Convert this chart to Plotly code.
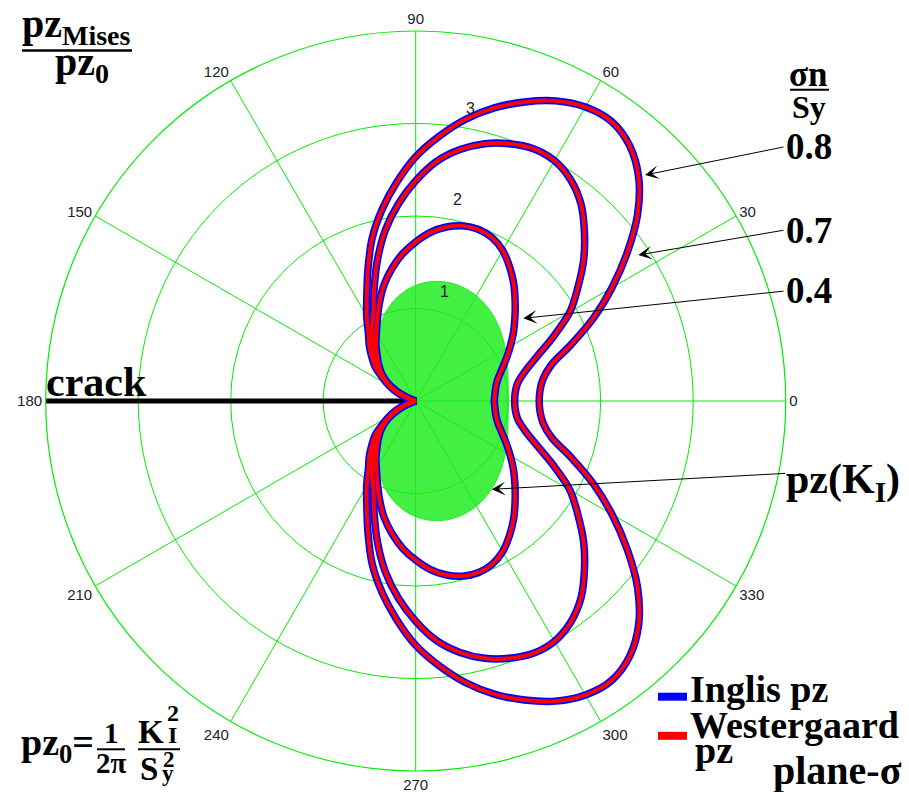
import math
import plotly.graph_objects as go

# ---- figure geometry -------------------------------------------------------
W, H = 909, 792
CX, CY = 415.7, 401.0          # pole position (px)
R_PX = 370.0                   # outer circle radius (px)
R_MAX = 4

# ---- data: normalised plastic-zone size pz_Mises / pz0 vs angle (deg) -------
THETA_UP = list(range(0, 185, 5))      # 0 .. 180
THETA_DN = list(range(185, 360, 5))    # 185 .. 355

# K_I-field plastic zone (filled)
KI_UP = [1.0, 1.004, 1.015, 1.033, 1.058, 1.087, 1.121, 1.156, 1.193, 1.229,
         1.262, 1.290, 1.313, 1.327, 1.333, 1.329, 1.314, 1.288, 1.25, 1.201,
         1.141, 1.070, 0.991, 0.905, 0.813, 0.717, 0.619, 0.522, 0.427, 0.337,
         0.255, 0.181, 0.118, 0.067, 0.030, 0.008, 0.0]
KI_DN = [0.008, 0.030, 0.067, 0.118, 0.181, 0.255, 0.337, 0.427, 0.522, 0.619,
         0.717, 0.813, 0.905, 0.991, 1.070, 1.141, 1.201, 1.25, 1.288, 1.314,
         1.329, 1.333, 1.327, 1.313, 1.290, 1.262, 1.229, 1.193, 1.156, 1.121,
         1.087, 1.058, 1.033, 1.015, 1.004]

# sigma_n / S_y = 0.4
S04_UP = [0.85, 0.86, 0.88, 0.92, 0.99, 1.08, 1.18, 1.29, 1.40, 1.52,
          1.65, 1.77, 1.88, 1.95, 1.975, 1.96, 1.91, 1.83, 1.72, 1.60,
          1.46, 1.31, 1.14, 0.98, 0.85, 0.75, 0.65, 0.57, 0.49, 0.40,
          0.30, 0.18, 0.06, 0.0, 0.0, 0.0, 0.0]
S04_DN = [0.0, 0.0, 0.0, 0.06, 0.18, 0.30, 0.40, 0.49, 0.57, 0.65,
          0.75, 0.85, 0.98, 1.14, 1.31, 1.46, 1.60, 1.72, 1.83, 1.91,
          1.96, 1.975, 1.95, 1.88, 1.77, 1.65, 1.52, 1.40, 1.29, 1.18,
          1.08, 0.99, 0.92, 0.88, 0.86]

# sigma_n / S_y = 0.7
S07_UP = [1.07, 1.08, 1.12, 1.22, 1.39, 1.64, 1.925, 2.14, 2.37, 2.58,
          2.78, 2.92, 3.00, 3.01, 2.96, 2.88, 2.76, 2.60, 2.38, 2.14,
          1.88, 1.59, 1.31, 1.08, 0.94, 0.81, 0.70, 0.61, 0.52, 0.43,
          0.33, 0.23, 0.12, 0.03, 0.0, 0.0, 0.0]
S07_DN = [0.0, 0.0, 0.03, 0.12, 0.23, 0.33, 0.43, 0.52, 0.61, 0.70,
          0.81, 0.94, 1.08, 1.31, 1.59, 1.88, 2.14, 2.38, 2.60, 2.76,
          2.88, 2.96, 3.01, 3.00, 2.92, 2.78, 2.58, 2.37, 2.14, 1.925,
          1.64, 1.39, 1.22, 1.12, 1.08]

# sigma_n / S_y = 0.8
S08_UP = [1.335, 1.35, 1.40, 1.52, 1.79, 2.12, 2.45, 2.79, 3.13, 3.41,
          3.60, 3.69, 3.67, 3.58, 3.44, 3.28, 3.09, 2.87, 2.64, 2.37,
          2.10, 1.82, 1.51, 1.25, 1.06, 0.89, 0.78, 0.67, 0.57, 0.43,
          0.30, 0.18, 0.07, 0.0, 0.0, 0.0, 0.0]
S08_DN = [0.0, 0.0, 0.0, 0.07, 0.18, 0.30, 0.43, 0.57, 0.67, 0.78,
          0.89, 1.06, 1.25, 1.51, 1.82, 2.10, 2.37, 2.64, 2.87, 3.09,
          3.28, 3.44, 3.58, 3.67, 3.69, 3.60, 3.41, 3.13, 2.79, 2.45,
          2.12, 1.79, 1.52, 1.40, 1.35]

CRACK_R = [0, 4]
CRACK_THETA = [180, 180]

RING_VALUES = [1, 2, 3]
ANGLE_TICKS = list(range(0, 360, 30))

# ---- styles ----------------------------------------------------------------
GRID = "rgb(0,238,0)"
BLUE = "rgb(0,0,255)"
RED = "rgb(255,0,0)"
SERIF = "Liberation Serif"
SANS = "Liberation Sans"
RING_LABEL_ANGLE = 82          # deg, where ring values are written
RING_LABEL_SHIFT = (16, -18)   # px offset of ring values from their ring


def closed(up, dn):
    th = THETA_UP + THETA_DN + [THETA_UP[0] + 360]
    r = up + dn + [up[0]]
    return r, th


def polar_px(r, theta_deg):
    a = math.radians(theta_deg)
    k = R_PX / R_MAX
    return CX + r * k * math.cos(a), CY - r * k * math.sin(a)


fig = go.Figure()

# K_I plastic zone
r, th = closed(KI_UP, KI_DN)
fig.add_trace(go.Scatterpolar(
    r=r, theta=th, mode="lines", fill="toself",
    fillcolor="rgba(30,236,30,0.84)",
    line=dict(color="rgba(30,236,30,0.9)", width=1, shape="spline"),
    hoverinfo="skip", showlegend=False))

# crack faces
fig.add_trace(go.Scatterpolar(
    r=CRACK_R, theta=CRACK_THETA, mode="lines",
    line=dict(color="black", width=5), hoverinfo="skip", showlegend=False))

levels = [(S04_UP, S04_DN), (S07_UP, S07_DN), (S08_UP, S08_DN)]
# Inglis solution (blue, underneath)
for up, dn in levels:
    r, th = closed(up, dn)
    fig.add_trace(go.Scatterpolar(
        r=r, theta=th, mode="lines",
        line=dict(color=BLUE, width=7.5, shape="spline"),
        hoverinfo="skip", showlegend=False))
# Westergaard solution (red, on top)
for up, dn in levels:
    r, th = closed(up, dn)
    fig.add_trace(go.Scatterpolar(
        r=r, theta=th, mode="lines",
        line=dict(color=RED, width=4, shape="spline"),
        hoverinfo="skip", showlegend=False))

fig.update_layout(
    width=W, height=H, margin=dict(l=0, r=0, t=0, b=0),
    paper_bgcolor="white", showlegend=False,
    polar=dict(
        domain=dict(x=[(CX - R_PX) / W, (CX + R_PX) / W],
                    y=[(H - CY - R_PX) / H, (H - CY + R_PX) / H]),
        bgcolor="white",
        angularaxis=dict(
            rotation=0, direction="counterclockwise",
            tickmode="array", tickvals=ANGLE_TICKS,
            ticktext=[str(a) for a in ANGLE_TICKS],
            ticks="", showgrid=True, gridcolor=GRID, gridwidth=1,
            showline=True, linecolor=GRID, linewidth=1.2,
            tickfont=dict(family=SANS, size=15, color="#222")),
        radialaxis=dict(
            range=[0, R_MAX], tickmode="array", tickvals=RING_VALUES,
            showticklabels=False, ticks="", showline=False,
            showgrid=True, gridcolor=GRID, gridwidth=1),
    ),
)


# ---- text helpers (pixel positions, baseline-based) -------------------------
def label(text, x, base, size, anchor="left", family=SERIF):
    fig.add_annotation(
        text=text, xref="paper", yref="paper",
        x=x / W, y=1 - (base - 0.891 * size) / H,
        xanchor=anchor, yanchor="top", showarrow=False,
        borderpad=0, borderwidth=0,
        font=dict(family=family, size=size, color="black"))


def bar(x0, x1, y, width=2.5, color="black"):
    fig.add_shape(type="line", xref="paper", yref="paper",
                  x0=x0 / W, x1=x1 / W, y0=1 - y / H, y1=1 - y / H,
                  line=dict(color=color, width=width))


def pointer(tail, tip):
    fig.add_annotation(
        text="", xref="paper", yref="paper",
        x=tip[0] / W, y=1 - tip[1] / H,
        axref="pixel", ayref="pixel",
        ax=tail[0] - tip[0], ay=tail[1] - tip[1],
        showarrow=True, arrowhead=3, arrowsize=2.3, arrowwidth=1,
        arrowcolor="black", standoff=0)


# ring values
for v in RING_VALUES:
    px, py = polar_px(v, RING_LABEL_ANGLE)
    fig.add_annotation(
        text=str(v), xref="paper", yref="paper",
        x=(px + RING_LABEL_SHIFT[0]) / W, y=1 - (py + RING_LABEL_SHIFT[1]) / H,
        xanchor="center", yanchor="middle", showarrow=False,
        font=dict(family=SANS, size=16, color="#222"))

# ordinate title pz_Mises / pz0
label("<b>pz<sub>Mises</sub></b>", 22, 36.7, 40)
bar(22, 132, 50.5, 2.5)
label("<b>pz<sub>0</sub></b>", 55, 75, 40)

# sigma_n / S_y heading and level labels
label("<b>σn</b>", 789, 86, 35)
bar(790, 829, 89.8, 2)
label("<b>Sy</b>", 792, 117.5, 32)
label("<b>0.8</b>", 786, 159.3, 37)
label("<b>0.7</b>", 786, 243.3, 37)
label("<b>0.4</b>", 786, 302.7, 37)
label("<b>pz(K<sub>I</sub>)</b>", 786, 493.3, 42)

pointer((785, 146.7), (645, 175))
pointer((785, 230), (638.3, 255))
pointer((785, 291), (523.3, 318.3))
pointer((786.7, 473.3), (491.7, 489.3))

label("<b>crack</b>", 46, 396.7, 42)

# key
bar(658, 687, 696.7, 8, BLUE)
bar(658, 687, 735.8, 8, RED)
label("<b>Inglis pz</b>", 690, 701.7, 38)
label("<b>Westergaard</b>", 690, 738.3, 38)
label("<b>pz</b>", 695, 763.3, 38)
label("<b>plane-σ</b>", 773, 783.3, 40)

# pz0 definition
label("<b>pz<sub>0</sub>=</b>", 21, 755, 38)
label("<b>1</b>", 111, 743.3, 29, anchor="center")
bar(97, 125, 749.3, 2)
label("<b>2π</b>", 111, 773.3, 29, anchor="center")
label("<b>K</b>", 138, 743.3, 33)
label("<b>2</b>", 167, 721.7, 24)
label("<b>I</b>", 168, 743.3, 24)
bar(138, 180, 749.3, 2)
label("<b>S</b>", 140, 780, 33)
label("<b>2</b>", 163, 767, 23)
label("<b>y</b>", 162, 781, 23)

fig.write_html("out.html")
